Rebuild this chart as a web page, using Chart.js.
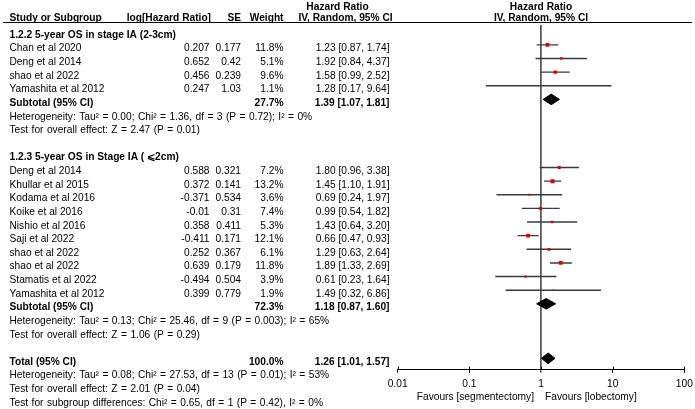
<!DOCTYPE html>
<html>
<head>
<meta charset="utf-8">
<script src="https://cdn.jsdelivr.net/npm/chart.js@4/dist/chart.umd.min.js"></script>
<style>
html,body{margin:0;padding:0;background:#fff;}
#wrap{width:695px;height:409px;position:relative;}
</style>
</head>
<body>
<div id="wrap"><canvas id="c" width="695" height="409"></canvas></div>
<script>
// ---------------- DATA ----------------
const group1Title = '1.2.2 5-year OS in stage IA (2-3cm)';
const studies1 = ['Chan et al 2020', 'Deng et al 2014', 'shao et al 2022', 'Yamashita et al 2012'];
const logHR1 = ['0.207', '0.652', '0.456', '0.247'];
const se1 = ['0.177', '0.42', '0.239', '1.03'];
const weight1 = [11.8, 5.1, 9.6, 1.1];
const hr1 = [1.23, 1.92, 1.58, 1.28];
const lo1 = [0.87, 0.84, 0.99, 0.17];
const hi1 = [1.74, 4.37, 2.52, 9.64];
const subtotal1 = { weight: 27.7, hr: 1.39, lo: 1.07, hi: 1.81 };
const hetero1 = 'Heterogeneity: Tau\u00b2 = 0.00; Chi\u00b2 = 1.36, df = 3 (P = 0.72); I\u00b2 = 0%';
const effect1 = 'Test for overall effect: Z = 2.47 (P = 0.01)';

const group2Title = '1.2.3 5-year OS in Stage IA ( \u2a7d2cm)';
const studies2 = ['Deng et al 2014', 'Khullar et al 2015', 'Kodama et al 2016', 'Koike et al 2016', 'Nishio et al 2016',
  'Saji et al 2022', 'shao et al 2022', 'shao et al 2022', 'Stamatis et al 2022', 'Yamashita et al 2012'];
const logHR2 = ['0.588', '0.372', '-0.371', '-0.01', '0.358', '-0.411', '0.252', '0.639', '-0.494', '0.399'];
const se2 = ['0.321', '0.141', '0.534', '0.31', '0.411', '0.171', '0.367', '0.179', '0.504', '0.779'];
const weight2 = [7.2, 13.2, 3.6, 7.4, 5.3, 12.1, 6.1, 11.8, 3.9, 1.9];
const hr2 = [1.80, 1.45, 0.69, 0.99, 1.43, 0.66, 1.29, 1.89, 0.61, 1.49];
const lo2 = [0.96, 1.10, 0.24, 0.54, 0.64, 0.47, 0.63, 1.33, 0.23, 0.32];
const hi2 = [3.38, 1.91, 1.97, 1.82, 3.20, 0.93, 2.64, 2.69, 1.64, 6.86];
const subtotal2 = { weight: 72.3, hr: 1.18, lo: 0.87, hi: 1.60 };
const hetero2 = 'Heterogeneity: Tau\u00b2 = 0.13; Chi\u00b2 = 25.46, df = 9 (P = 0.003); I\u00b2 = 65%';
const effect2 = 'Test for overall effect: Z = 1.06 (P = 0.29)';

const total = { weight: 100.0, hr: 1.26, lo: 1.01, hi: 1.57 };
const heteroTotal = 'Heterogeneity: Tau\u00b2 = 0.08; Chi\u00b2 = 27.53, df = 13 (P = 0.01); I\u00b2 = 53%';
const effectTotal = 'Test for overall effect: Z = 2.01 (P = 0.04)';
const subgroupTest = 'Test for subgroup differences: Chi\u00b2 = 0.65, df = 1 (P = 0.42), I\u00b2 = 0%';

const xTicks = [0.01, 0.1, 1, 10, 100];
const favoursLeft = 'Favours [segmentectomy]';
const favoursRight = 'Favours [lobectomy]';

// ---------------- ROW LAYOUT ----------------
const rowsG1 = studies1.map((_, i) => 1 + i);
const rowSub1 = studies1.length + 1;
const rowG2Title = rowSub1 + 4;
const rowsG2 = studies2.map((_, i) => rowG2Title + 1 + i);
const rowSub2 = rowG2Title + studies2.length + 1;
const rowTotal = rowSub2 + 4;

const allHR = hr1.concat(hr2), allLo = lo1.concat(lo2), allHi = hi1.concat(hi2);
const allW = weight1.concat(weight2), allRows = rowsG1.concat(rowsG2);

// CI segments with gaps
const ciData = [];
allRows.forEach((r, i) => {
  ciData.push({ x: allLo[i], y: r }, { x: allHi[i], y: r }, { x: null, y: null });
});
function diamond(s, r) {
  const h = 0.39;
  return [{ x: s.lo, y: r }, { x: s.hr, y: r - h }, { x: s.hi, y: r }, { x: s.hr, y: r + h }, { x: s.lo, y: r }];
}

const FONT = '"Liberation Sans", Arial, Helvetica, sans-serif';
const FS = 10.2;
const fN = FS + 'px ' + FONT;
const fB = 'bold ' + FS + 'px ' + FONT;

const COL = { name: 9.5, logHR: 209.5, se: 241, weight: 283.5, ci: 389.5 };
const fmtCI = (h, l, u) => h.toFixed(2) + ' [' + l.toFixed(2) + ', ' + u.toFixed(2) + ']';

const textPlugin = {
  id: 'forestText',
  afterDraw(chart) {
    const ctx = chart.ctx, ys = chart.scales.y, xs = chart.scales.x;
    const base = r => ys.getPixelForValue(r) + 6.5;
    ctx.save();
    ctx.fillStyle = '#000';
    ctx.textBaseline = 'alphabetic';
    function t(str, x, y, align, font, ws) {
      ctx.font = font; ctx.textAlign = align;
      if ('wordSpacing' in ctx) ctx.wordSpacing = (ws || 0) + 'px';
      ctx.fillText(str, x, y);
      if ('wordSpacing' in ctx) ctx.wordSpacing = '0px';
    }

    // header
    const x1 = xs.getPixelForValue(1);
    t('Hazard Ratio', 337.5, 9.8, 'center', fB);
    t('Hazard Ratio', x1, 9.8, 'center', fB);
    t('Study or Subgroup', COL.name, 20.6, 'left', fB);
    t('log[Hazard Ratio]', 211, 20.6, 'right', fB);
    t('SE', COL.se, 20.6, 'right', fB);
    t('Weight', COL.weight, 20.6, 'right', fB);
    t('IV, Random, 95% CI', 345.5, 20.6, 'center', fB);
    t('IV, Random, 95% CI', x1, 20.6, 'center', fB);
    ctx.strokeStyle = '#000'; ctx.lineWidth = 1;
    ctx.beginPath(); ctx.moveTo(3, 22.5); ctx.lineTo(692, 22.5); ctx.stroke();

    const WS = 0.6;
    // group 1
    t(group1Title, COL.name, base(0), 'left', fB);
    studies1.forEach((s, i) => {
      const y = base(rowsG1[i]);
      t(s, COL.name, y, 'left', fN);
      t(logHR1[i], COL.logHR, y, 'right', fN);
      t(se1[i], COL.se, y, 'right', fN);
      t(weight1[i].toFixed(1) + '%', COL.weight, y, 'right', fN);
      t(fmtCI(hr1[i], lo1[i], hi1[i]), COL.ci, y, 'right', fN);
    });
    let y = base(rowSub1);
    t('Subtotal (95% CI)', COL.name, y, 'left', fB);
    t(subtotal1.weight.toFixed(1) + '%', COL.weight, y, 'right', fB);
    t(fmtCI(subtotal1.hr, subtotal1.lo, subtotal1.hi), COL.ci, y, 'right', fB);
    t(hetero1, COL.name, base(rowSub1 + 1), 'left', fN, WS);
    t(effect1, COL.name, base(rowSub1 + 2), 'left', fN, WS);

    // group 2
    t(group2Title, COL.name, base(rowG2Title), 'left', fB);
    studies2.forEach((s, i) => {
      const yy = base(rowsG2[i]);
      t(s, COL.name, yy, 'left', fN);
      t(logHR2[i], COL.logHR, yy, 'right', fN);
      t(se2[i], COL.se, yy, 'right', fN);
      t(weight2[i].toFixed(1) + '%', COL.weight, yy, 'right', fN);
      t(fmtCI(hr2[i], lo2[i], hi2[i]), COL.ci, yy, 'right', fN);
    });
    y = base(rowSub2);
    t('Subtotal (95% CI)', COL.name, y, 'left', fB);
    t(subtotal2.weight.toFixed(1) + '%', COL.weight, y, 'right', fB);
    t(fmtCI(subtotal2.hr, subtotal2.lo, subtotal2.hi), COL.ci, y, 'right', fB);
    t(hetero2, COL.name, base(rowSub2 + 1), 'left', fN, WS);
    t(effect2, COL.name, base(rowSub2 + 2), 'left', fN, WS);

    // total
    y = base(rowTotal);
    t('Total (95% CI)', COL.name, y, 'left', fB);
    t(total.weight.toFixed(1) + '%', COL.weight, y, 'right', fB);
    t(fmtCI(total.hr, total.lo, total.hi), COL.ci, y, 'right', fB);
    t(heteroTotal, COL.name, base(rowTotal + 1), 'left', fN, WS);
    t(effectTotal, COL.name, base(rowTotal + 2), 'left', fN, WS);
    t(subgroupTest, COL.name, base(rowTotal + 3), 'left', fN, WS);

    // favours labels
    t(favoursLeft, x1 - 7, 400, 'right', fN);
    t(favoursRight, x1 + 4, 400, 'left', fN);

    // upward halves of tick marks
    const ab = chart.chartArea.bottom;
    ctx.strokeStyle = '#000'; ctx.lineWidth = 1;
    xTicks.forEach(v => {
      const px = Math.round(xs.getPixelForValue(v)) + 0.5;
      ctx.beginPath(); ctx.moveTo(px, ab - 3); ctx.lineTo(px, ab); ctx.stroke();
    });
    ctx.restore();
  }
};

new Chart(document.getElementById('c'), {
  type: 'scatter',
  data: {
    datasets: [
      {
        type: 'scatter',
        data: allHR.map((h, i) => ({ x: h, y: allRows[i] })),
        pointStyle: 'rect',
        pointRadius: ctx => 0.78 * Math.sqrt(allW[ctx.dataIndex]),
        backgroundColor: '#e00000',
        borderWidth: 0,
        order: 0
      },
      {
        type: 'line',
        data: ciData,
        borderColor: '#3a3a3a',
        borderWidth: 1.4,
        pointRadius: 0,
        spanGaps: false,
        fill: false,
        order: 2
      },
      {
        type: 'line',
        data: diamond(subtotal1, rowSub1),
        borderColor: '#000', backgroundColor: '#000', borderWidth: 1,
        pointRadius: 0, fill: 'shape', tension: 0, order: 1
      },
      {
        type: 'line',
        data: diamond(subtotal2, rowSub2),
        borderColor: '#000', backgroundColor: '#000', borderWidth: 1,
        pointRadius: 0, fill: 'shape', tension: 0, order: 1
      },
      {
        type: 'line',
        data: diamond(total, rowTotal),
        borderColor: '#000', backgroundColor: '#000', borderWidth: 1,
        pointRadius: 0, fill: 'shape', tension: 0, order: 1
      }
    ]
  },
  options: {
    responsive: false,
    animation: false,
    devicePixelRatio: 1,
    layout: { padding: { left: 397.7, right: 10.7, top: 25, bottom: 14 } },
    plugins: { legend: { display: false }, tooltip: { enabled: false } },
    events: [],
    scales: {
      x: {
        type: 'logarithmic',
        min: 0.01, max: 100,
        afterBuildTicks: axis => { axis.ticks = xTicks.map(v => ({ value: v })); },
        afterFit: axis => { axis.paddingLeft = 0; axis.paddingRight = 0; },
        ticks: {
          callback: v => String(v),
          color: '#000',
          font: { family: FONT, size: FS },
          padding: 5,
          maxRotation: 0,
          autoSkip: false
        },
        grid: {
          drawOnChartArea: true,
          color: ctx => (ctx.tick && ctx.tick.value === 1) ? '#5a5a5a' : 'rgba(0,0,0,0)',
          lineWidth: ctx => (ctx.tick && ctx.tick.value === 1) ? 1.8 : 1,
          tickColor: '#000',
          tickWidth: 1,
          tickLength: 3
        },
        border: { display: true, color: '#000', width: 1 }
      },
      y: {
        type: 'linear',
        display: false,
        reverse: true,
        min: -0.46,
        max: 24.84
      }
    }
  },
  plugins: [textPlugin]
});
</script>
</body>
</html>
